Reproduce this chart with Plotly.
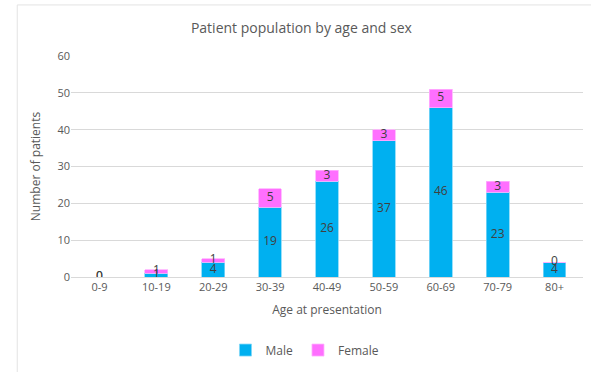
import plotly.graph_objects as go

age_groups = ["0-9", "10-19", "20-29", "30-39", "40-49", "50-59", "60-69", "70-79", "80+"]
male = [0, 1, 4, 19, 26, 37, 46, 23, 4]
female = [0, 1, 1, 5, 3, 3, 5, 3, 0]
y_ticks = [0, 10, 20, 30, 40, 50, 60]

MALE_COLOR = "#00B0F0"
FEMALE_COLOR = "#FF6FFF"
TEXT_COLOR = "#595959"
LABEL_COLOR = "#404040"
FONT = "Open Sans"

fig = go.Figure()
fig.add_trace(go.Bar(x=age_groups, y=male, name="Male", marker=dict(color=MALE_COLOR, line=dict(color="#7FD7F7", width=0.8)), hoverinfo="skip"))
fig.add_trace(go.Bar(x=age_groups, y=female, name="Female", marker=dict(color=FEMALE_COLOR, line=dict(color="#FFB0FF", width=0.8)), hoverinfo="skip"))

# Segment value labels, centred within each stacked segment
male_mid = [m / 2 for m in male]
female_mid = [m + f / 2 for m, f in zip(male, female)]
fig.add_trace(go.Scatter(x=age_groups, y=male_mid, text=[str(v) for v in male], mode="text",
                         textposition="middle center", textfont=dict(color=LABEL_COLOR, size=12, family=FONT),
                         showlegend=False, hoverinfo="skip"))
fig.add_trace(go.Scatter(x=age_groups, y=female_mid, text=[str(v) for v in female], mode="text",
                         textposition="middle center", textfont=dict(color=LABEL_COLOR, size=12, family=FONT),
                         showlegend=False, hoverinfo="skip"))

fig.update_layout(
    width=591, height=372,
    margin=dict(l=71, r=8, t=56, b=95),
    barmode="stack", bargap=0.6,
    paper_bgcolor="white", plot_bgcolor="white",
    font=dict(family=FONT, color=TEXT_COLOR, size=11),
    title=dict(text="Patient population by age and sex", x=0.51, xanchor="center", y=0.925, yanchor="middle",
               font=dict(size=14, color=TEXT_COLOR, family=FONT)),
    xaxis=dict(title=dict(text="Age at presentation", font=dict(size=12, color=TEXT_COLOR), standoff=12),
               tickfont=dict(size=11, color=TEXT_COLOR), showgrid=False, showline=True,
               linecolor="#D9D9D9", linewidth=1, ticks=""),
    yaxis=dict(title=dict(text="Number of patients", font=dict(size=12, color=TEXT_COLOR), standoff=14),
               range=[0, 60], tickvals=y_ticks, tickfont=dict(size=11, color=TEXT_COLOR),
               showgrid=True, gridcolor="#D9D9D9", gridwidth=1, zeroline=False, showline=False, ticks=""),
    legend=dict(orientation="h", x=0.457, xanchor="center", y=-0.265, yanchor="top",
                font=dict(size=12, color=TEXT_COLOR), itemwidth=30, traceorder="normal"),
    shapes=[
        dict(type="line", xref="paper", yref="paper", x0=-0.105, x1=1.02, y0=1.231, y1=1.231,
             line=dict(color="#E3E3E3", width=1)),
        dict(type="line", xref="paper", yref="paper", x0=-0.105, x1=-0.105, y0=1.231, y1=-0.43,
             line=dict(color="#E3E3E3", width=1)),
    ],
)

fig.write_html("out.html")
